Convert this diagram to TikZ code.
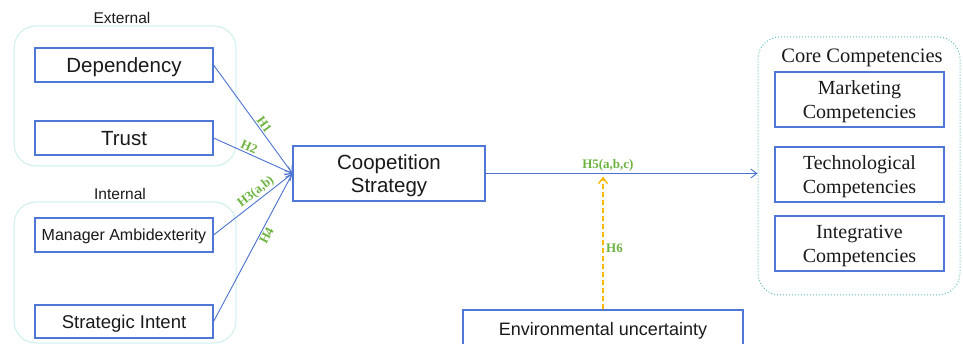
\documentclass[tikz,border=0pt]{standalone}
\usepackage{fontspec}
\setmainfont{Liberation Serif}
\setsansfont{Liberation Sans}
\usetikzlibrary{arrows.meta,positioning}
\definecolor{boxblue}{HTML}{4F78D6}
\definecolor{lineblue}{HTML}{4A72D0}
\definecolor{hgreen}{HTML}{6DB33F}
\definecolor{grpcyan}{HTML}{CDEFEF}
\definecolor{coreteal}{HTML}{66BDBD}
\definecolor{dashorange}{HTML}{FFB800}
\definecolor{txt}{HTML}{1A1A1A}
\tikzset{
  sbox/.style={draw=boxblue, line width=1.1pt, fill=white, inner sep=0pt, text=txt, font=\sffamily, align=center},
  rbox/.style={draw=boxblue, line width=1.1pt, fill=white, inner sep=0pt, text=txt, font=\rmfamily\fontsize{20}{24}\selectfont, align=center, minimum width=169pt, minimum height=55pt, text depth=0pt},
  grp/.style={draw=grpcyan, line width=1pt, rounded corners=22pt},
  conn/.style={draw=lineblue, line width=0.9pt, -{Straight Barb[length=6pt,width=9pt]}},
  hlab/.style={text=hgreen, font=\rmfamily\bfseries\fontsize{13}{14}\selectfont, inner sep=1.5pt},
  grplab/.style={text=txt, font=\sffamily\fontsize{15.5}{17}\selectfont}
}
\begin{document}
\begin{tikzpicture}[x=1pt,y=-1pt]
\useasboundingbox (0,0) rectangle (963,344);
% groups
\draw[grp] (14,26) rectangle (236,166);
\draw[grp] (14,202) rectangle (236,343);
\node[grplab] (extlab) at (122,18) {External};
\node[grplab] (intlab) at (120,194) {Internal};
\node[draw=coreteal, line width=1pt, dotted, rounded corners=22pt, minimum width=202pt, minimum height=258pt, inner sep=0pt] (core) at (859,166) {};
\node[text=txt, font=\rmfamily\fontsize{20.5}{23}\selectfont] (corelab) at (862,58) {Core Competencies};
% left boxes
\node[sbox, minimum width=178pt, minimum height=34pt, text depth=0pt, font=\sffamily\fontsize{20.5}{23}\selectfont] (dep) at (124,65) {Dependency};
\node[sbox, minimum width=178pt, minimum height=34pt, text depth=0pt, font=\sffamily\fontsize{20.5}{23}\selectfont] (trust) at (124,138) {Trust};
\node[sbox, minimum width=178pt, minimum height=34pt, text depth=0pt, font=\sffamily\fontsize{16}{18}\selectfont] (man) at (124,235) {Manager Ambidexterity};
\node[sbox, minimum width=178pt, minimum height=33pt, text depth=0pt, font=\sffamily\fontsize{18.5}{21}\selectfont] (si) at (124,321.5) {Strategic Intent};
% center
\node[sbox, minimum width=192pt, minimum height=55pt, text depth=0pt, font=\sffamily\fontsize{20.5}{23}\selectfont] (coop) at (389,173.5) {Coopetition\\Strategy};
\node[sbox, minimum width=280pt, minimum height=38pt, text depth=0pt, font=\sffamily\fontsize{18}{21}\selectfont] (env) at (603,329) {Environmental uncertainty};
% right boxes
\node[rbox] (mkt) at (859.5,99.5) {Marketing\\Competencies};
\node[rbox] (tech) at (859.5,174.5) {Technological\\Competencies};
\node[rbox] (integ) at (859.5,243.5) {Integrative\\Competencies};
% connectors
\draw[conn] (dep.east) -- node[hlab, sloped, above, pos=0.58] {H1} (coop.west);
\draw[conn] (trust.east) -- node[hlab, sloped, above, pos=0.42] {H2} (coop.west);
\draw[conn] (man.east) -- node[hlab, sloped, above, pos=0.6] {H3(a,b)} (coop.west);
\draw[conn] (si.east) -- node[hlab, sloped, below, pos=0.6] {H4} (coop.west);
\coordinate (h5end) at (coop.east -| core.west);
\draw[conn] (coop.east) -- node[hlab, above, pos=0.45] {H5(a,b,c)} (h5end);
\coordinate (h6end) at (env.north |- coop.east);
\draw[draw=dashorange, line width=1.4pt, dash pattern=on 5pt off 3pt, -{Straight Barb[length=6pt,width=9pt]}, shorten >=3pt] (env.north) -- node[hlab, right, pos=0.45, xshift=1pt] {H6} (h6end);
\end{tikzpicture}
\end{document}
